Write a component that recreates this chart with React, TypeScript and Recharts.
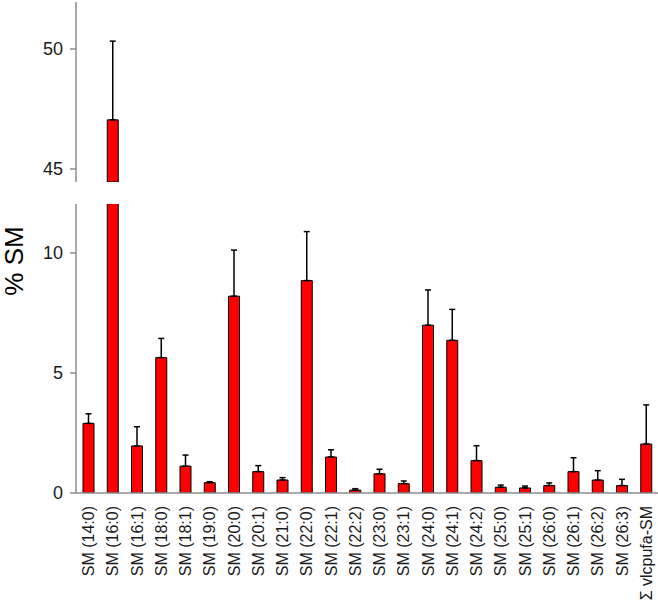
import { BarChart, Bar, XAxis, YAxis, ErrorBar } from 'recharts';

const categories = [
  'SM (14:0)', 'SM (16:0)', 'SM (16:1)', 'SM (18:0)', 'SM (18:1)', 'SM (19:0)',
  'SM (20:0)', 'SM (20:1)', 'SM (21:0)', 'SM (22:0)', 'SM (22:1)', 'SM (22:2)',
  'SM (23:0)', 'SM (23:1)', 'SM (24:0)', 'SM (24:1)', 'SM (24:2)', 'SM (25:0)',
  'SM (25:1)', 'SM (26:0)', 'SM (26:1)', 'SM (26:2)', 'SM (26:3)', 'Σ vlcpufa-SM',
];

const means = [
  2.9, 47.05, 1.96, 5.64, 1.12, 0.43, 8.2, 0.89, 0.54, 8.85, 1.5, 0.12,
  0.8, 0.39, 6.99, 6.36, 1.35, 0.24, 0.21, 0.31, 0.89, 0.54, 0.31, 2.04,
];

const errors = [
  0.4, 3.28, 0.8, 0.8, 0.46, 0.04, 1.92, 0.25, 0.1, 2.04, 0.3, 0.06,
  0.19, 0.11, 1.47, 1.29, 0.62, 0.09, 0.08, 0.11, 0.58, 0.39, 0.26, 1.63,
];

const upperTicks = [45, 50];
const lowerTicks = [0, 5, 10];

// values above the break are drawn in the upper panel only
const BREAK = 12.04;

const data = categories.map((name, i) => ({
  name,
  value: means[i],
  upper: means[i] > BREAK ? means[i] : null,
  upperErr: [0, errors[i]],
  lowerErr: means[i] > BREAK ? [0, 0] : [0, errors[i]],
}));

const FONT = '"Liberation Sans", Arial, sans-serif';
const AXIS = '#8c8c8c';

type TickProps = { x?: number; y?: number; payload?: { value: string | number } };

const CategoryTick = ({ x, y, payload }: TickProps) => (
  <text
    x={0}
    y={0}
    transform={`translate(${(x ?? 0) + 6}, ${(y ?? 0) + 5}) rotate(-90)`}
    textAnchor="end"
    fontSize={16}
    fontFamily={FONT}
    fill="#1a1a1a"
  >
    {payload?.value}
  </text>
);

const ValueTick = ({ x, y, payload }: TickProps) => (
  <text
    x={(x ?? 0) + 1}
    y={(y ?? 0) + 6}
    textAnchor="end"
    fontSize={18}
    fontFamily={FONT}
    fill="#1a1a1a"
  >
    {payload?.value}
  </text>
);

export default function App() {
  return (
    <div style={{ position: 'absolute', left: 0, top: 0, width: 658, height: 602, background: '#fff' }}>
      <div style={{ position: 'absolute', left: 0, top: 0 }}>
        <BarChart width={658} height={184} data={data} margin={{ top: 2, right: 0, bottom: 2, left: 0 }} barSize={11}>
          <XAxis dataKey="name" hide />
          <YAxis
            width={76}
            domain={[44.46, 51.96]}
            ticks={upperTicks}
            allowDataOverflow
            axisLine={{ stroke: AXIS, strokeWidth: 1.5 }}
            tickLine={{ stroke: AXIS, strokeWidth: 1.5 }}
            tickSize={6}
            tickMargin={8}
            tick={<ValueTick />}
          />
          <Bar dataKey="upper" fill="#ff0000" stroke="#000" strokeWidth={1} isAnimationActive={false}>
            <ErrorBar dataKey="upperErr" width={3} stroke="#000" strokeWidth={1.5} direction="y" />
          </Bar>
        </BarChart>
      </div>
      <div style={{ position: 'absolute', left: 0, top: 200 }}>
        <BarChart width={658} height={402} data={data} margin={{ top: 4, right: 0, bottom: 0, left: 0 }} barSize={11}>
          <XAxis
            dataKey="name"
            interval={0}
            height={109}
            axisLine={{ stroke: AXIS, strokeWidth: 1.5 }}
            tickLine={false}
            tick={<CategoryTick />}
          />
          <YAxis
            width={76}
            domain={[0, BREAK]}
            ticks={lowerTicks}
            allowDataOverflow
            axisLine={{ stroke: AXIS, strokeWidth: 1.5 }}
            tickLine={{ stroke: AXIS, strokeWidth: 1.5 }}
            tickSize={6}
            tickMargin={8}
            tick={<ValueTick />}
          />
          <Bar dataKey="value" fill="#ff0000" stroke="#000" strokeWidth={1} isAnimationActive={false}>
            <ErrorBar dataKey="lowerErr" width={3} stroke="#000" strokeWidth={1.5} direction="y" />
          </Bar>
        </BarChart>
      </div>
      <svg width={40} height={602} style={{ position: 'absolute', left: 0, top: 0 }}>
        <text
          x={23}
          y={261}
          transform="rotate(-90, 23, 261)"
          textAnchor="middle"
          fontSize={26}
          fontFamily={FONT}
          fill="#000"
        >
          % SM
        </text>
      </svg>
    </div>
  );
}
